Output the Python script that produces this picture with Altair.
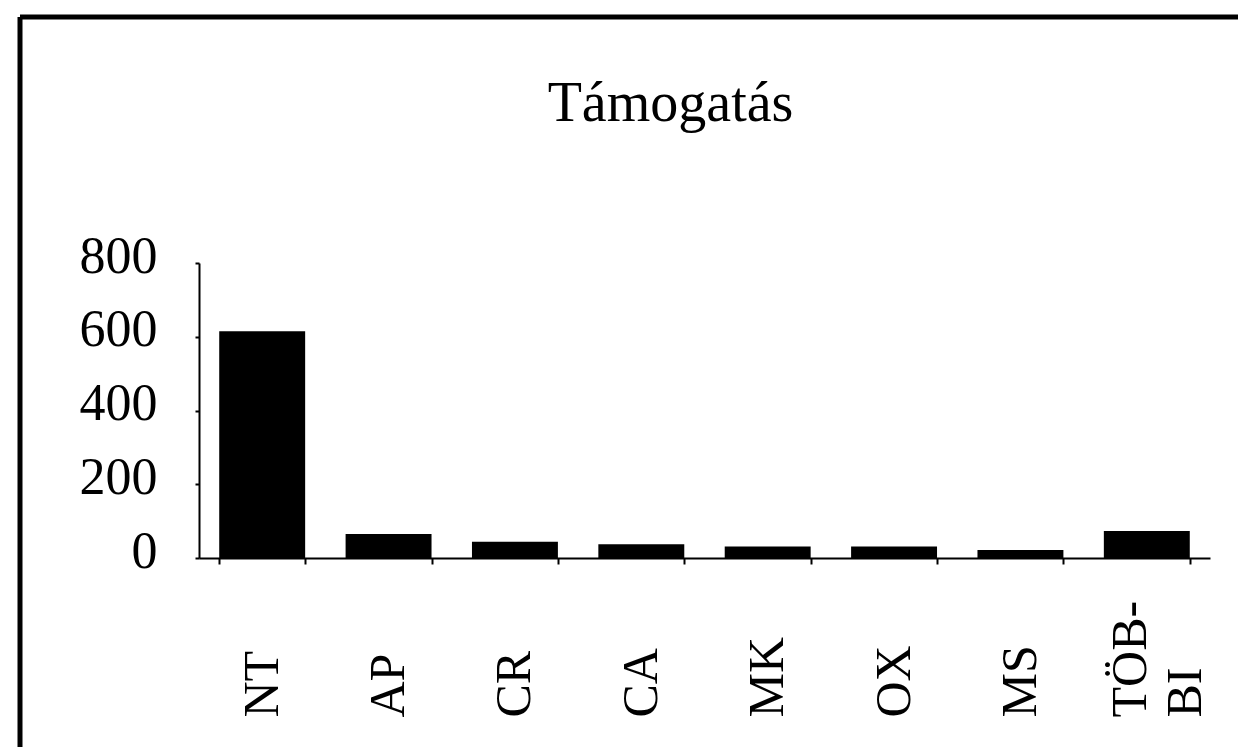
import altair as alt
import pandas as pd

categories = ["NT", "AP", "CR", "CA", "MK", "OX", "MS", "TÖBBI"]
values = [615, 65, 44, 37, 31, 31, 22, 73]
y_ticks = [0, 200, 400, 600, 800]
title_text = "Támogatás"

FONT = "Liberation Serif"

df = pd.DataFrame({"cat": categories, "val": values})

bars = alt.Chart(df).mark_bar(color="black").encode(
    x=alt.X(
        "cat:N",
        sort=None,
        title=None,
        scale=alt.Scale(paddingInner=0.32, paddingOuter=0.16),
        axis=alt.Axis(
            labelAngle=-90,
            labelAlign="left",
            labelBaseline="middle",
            labelFont=FONT,
            labelFontSize=50,
            labelColor="black",
            labelPadding=153,
            labelLineHeight=55,
            labelOffset={"condition": {"test": "datum.value === 'TÖBBI'", "value": -16}, "value": 0},
            labelExpr="datum.label == 'TÖBBI' ? ['TÖB-', 'BI'] : datum.label",
            tickSize=6,
            tickBand="extent",
            tickColor="black",
            tickWidth=2,
            domainColor="black",
            domainWidth=2,
        ),
    ),
    y=alt.Y(
        "val:Q",
        title=None,
        scale=alt.Scale(domain=[0, 800]),
        axis=alt.Axis(
            values=y_ticks,
            grid=False,
            labelFont=FONT,
            labelFontSize=52,
            labelColor="black",
            labelPadding=38,
            labelOffset=-7,
            tickSize=4,
            tickColor="black",
            tickWidth=2,
            domainColor="black",
            domainWidth=2,
        ),
    ),
)

frame_data = alt.Data(values=[{"k": 1}])
frame_top = alt.Chart(frame_data).mark_rule(color="black", strokeWidth=5).encode(
    x=alt.value(-179), x2=alt.value(1100), y=alt.value(-246)
)
frame_left = alt.Chart(frame_data).mark_rule(color="black", strokeWidth=5).encode(
    x=alt.value(-179), y=alt.value(-246), y2=alt.value(520)
)

chart = (
    alt.layer(frame_top, frame_left, bars)
    .properties(
        width=1011,
        height=295,
        padding={"left": 191, "top": 255, "right": 28, "bottom": 189},
        autosize="none",
        background="white",
        title=alt.TitleParams(
            title_text,
            font=FONT,
            fontSize=56,
            fontWeight="normal",
            color="black",
            anchor="middle",
            dx=-34,
            baseline="alphabetic",
            offset=-162,
            frame="group",
        ),
    )
    .configure_view(stroke=None)
)

chart.save("out.html", embed_options={"renderer": "svg", "actions": False})
